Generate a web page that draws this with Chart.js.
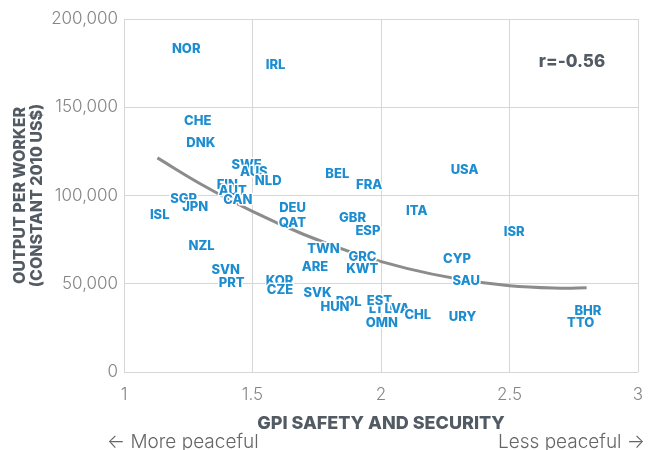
<!DOCTYPE html>
<html>
<head>
<meta charset="utf-8">
<script src="https://cdn.jsdelivr.net/npm/chart.js@4.4.0/dist/chart.umd.min.js"></script>
<style>
  html, body { margin: 0; padding: 0; background: #fff; }
  #wrap { width: 656px; height: 450px; }
</style>
</head>
<body>
<div id="wrap"><canvas id="chart" width="656" height="450"></canvas></div>
<script>
// country codes, GPI safety & security score, output per worker (constant 2010 US$)
const countries = [
  'NOR', 'IRL', 'CHE', 'DNK', 'SWE', 'AUS', 'NLD', 'FIN', 'AUT', 'CAN',
  'SGP', 'JPN', 'ISL', 'DEU', 'QAT', 'BEL', 'FRA', 'GBR', 'ESP', 'ITA',
  'USA', 'ISR', 'CYP', 'SAU', 'URY', 'BHR', 'TTO', 'TWN', 'ARE', 'GRC',
  'KWT', 'NZL', 'SVN', 'PRT', 'KOR', 'CZE', 'SVK', 'POL', 'HUN', 'LTU',
  'EST', 'LVA', 'CHL', 'OMN'
];
const gpiScores = [
  1.242, 1.590, 1.287, 1.299, 1.477, 1.505, 1.561, 1.402, 1.423, 1.443,
  1.232, 1.277, 1.139, 1.656, 1.655, 1.830, 1.954, 1.889, 1.949, 2.139,
  2.325, 2.518, 2.296, 2.332, 2.317, 2.805, 2.777, 1.776, 1.743, 1.928,
  1.927, 1.302, 1.396, 1.419, 1.605, 1.607, 1.753, 1.874, 1.821, 2.000,
  1.994, 2.063, 2.143, 2.003
];
const outputPerWorker = [
  182700, 173800, 142100, 129600, 117500, 113300, 108000, 105800, 102400, 97300,
  98000, 93500, 89000, 93100, 84300, 112000, 106000, 87300, 80000, 91000,
  114300, 79300, 64200, 51400, 31200, 34400, 27900, 69700, 59500, 65200,
  58200, 71600, 57800, 50600, 51600, 46600, 44700, 39700, 36800, 35900,
  40300, 35400, 32500, 27600
];

// fitted trend curve
const trendX = [1.13, 1.3, 1.5, 1.7, 1.9, 2.1, 2.3, 2.5, 2.7, 2.8];
const trendY = [121300, 106400, 91000, 77900, 67100, 58700, 52700, 48900, 47500, 47700];

const xTicks = { min: 1, max: 3, step: 0.5 };
const yTicks = { min: 0, max: 200000, step: 50000 };
const rLabel = 'r=-0.56';

const blue = '#1d8dd0';
const titleGray = '#525a63';
const tickGray = '#858585';
const gridGray = '#d6d6d6';

Chart.defaults.font.family = 'Inter';

// country codes drawn at each point, plus the r value and the arrow notes
const pointLabels = {
  id: 'pointLabels',
  afterDatasetsDraw(chart) {
    const ctx = chart.ctx;
    const meta = chart.getDatasetMeta(1);
    ctx.save();
    ctx.font = '800 13px Inter';
    ctx.textAlign = 'center';
    ctx.textBaseline = 'middle';
    ctx.lineJoin = 'round';
    meta.data.forEach((pt, i) => {
      ctx.strokeStyle = '#fff';
      ctx.lineWidth = 3;
      ctx.strokeText(countries[i], pt.x, pt.y);
      ctx.fillStyle = blue;
      ctx.fillText(countries[i], pt.x, pt.y);
    });

    const area = chart.chartArea;
    ctx.font = '800 17px Inter';
    ctx.fillStyle = titleGray;
    ctx.fillText(rLabel, area.right - 66, area.top + 43);

    ctx.font = '300 19px Inter';
    ctx.fillStyle = '#666';
    ctx.textAlign = 'left';
    ctx.fillText('\u2190 More peaceful', 107, 442);
    ctx.textAlign = 'right';
    ctx.fillText('Less peaceful \u2192', 645, 442);
    ctx.restore();
  }
};

new Chart(document.getElementById('chart').getContext('2d'), {
  data: {
    datasets: [
      {
        type: 'line',
        data: trendX.map((x, i) => ({ x, y: trendY[i] })),
        borderColor: '#8c8c8c',
        borderWidth: 3,
        pointRadius: 0,
        tension: 0.4,
        fill: false,
      },
      {
        type: 'scatter',
        data: gpiScores.map((x, i) => ({ x, y: outputPerWorker[i] })),
        pointRadius: 0,
        pointHoverRadius: 0,
      }
    ]
  },
  options: {
    responsive: false,
    animation: false,
    layout: { padding: { top: 19, right: 18, bottom: 0, left: 0 } },
    plugins: {
      legend: { display: false },
      tooltip: { enabled: false },
    },
    scales: {
      x: {
        type: 'linear',
        min: xTicks.min,
        max: xTicks.max,
        ticks: {
          stepSize: xTicks.step,
          color: tickGray,
          font: { size: 17, weight: 300 },
          padding: 13,
          callback: (value) => String(value),
        },
        grid: { color: gridGray, drawTicks: false },
        border: { display: false },
        title: {
          display: true,
          text: 'GPI SAFETY AND SECURITY',
          color: titleGray,
          font: { size: 18, weight: 800 },
          padding: { top: 0, bottom: 16 },
        },
        afterFit(scale) {
          scale.height = 78;
          scale.paddingLeft = 0;
          scale.paddingRight = 0;
        },
      },
      y: {
        type: 'linear',
        min: yTicks.min,
        max: yTicks.max,
        ticks: {
          stepSize: yTicks.step,
          color: tickGray,
          font: { size: 17, weight: 300 },
          padding: 6,
        },
        grid: { color: gridGray, drawTicks: false },
        border: { display: false },
        title: {
          display: true,
          text: ['OUTPUT PER WORKER', '(CONSTANT 2010 US$)'],
          color: titleGray,
          font: { size: 16, weight: 800, lineHeight: 1.05 },
          padding: { top: 12, bottom: 0 },
        },
        afterFit(scale) { scale.width = 124; },
      }
    }
  },
  plugins: [pointLabels]
});
</script>
</body>
</html>
